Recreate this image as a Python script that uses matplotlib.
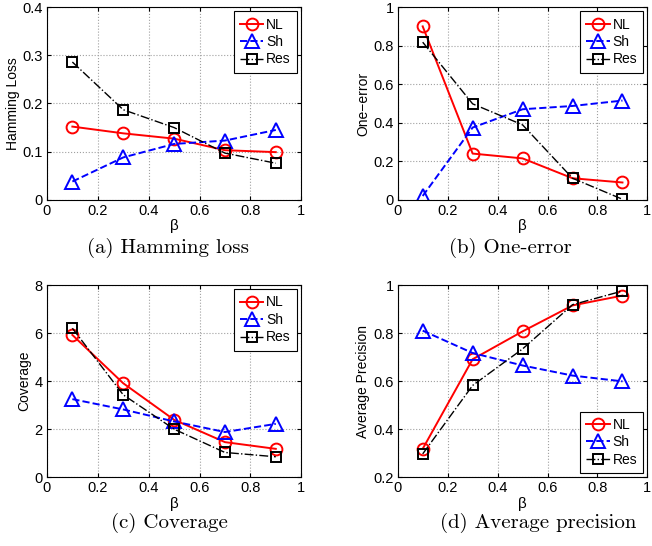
import matplotlib
matplotlib.use("Agg")
import matplotlib.pyplot as plt

plt.rcParams['font.family'] = ['Liberation Sans', 'DejaVu Sans']

beta = [0.1, 0.3, 0.5, 0.7, 0.9]

# (a) Hamming loss
ham_nl = [0.152, 0.138, 0.127, 0.103, 0.099]
ham_sh = [0.038, 0.088, 0.116, 0.123, 0.145]
ham_res = [0.286, 0.187, 0.150, 0.097, 0.076]

# (b) One-error
one_nl = [0.90, 0.24, 0.215, 0.112, 0.09]
one_sh = [0.02, 0.375, 0.47, 0.487, 0.515]
one_res = [0.818, 0.498, 0.389, 0.112, 0.003]

# (c) Coverage
cov_nl = [5.92, 3.91, 2.39, 1.46, 1.18]
cov_sh = [3.25, 2.82, 2.32, 1.88, 2.22]
cov_res = [6.2, 3.43, 2.0, 1.03, 0.85]

# (d) Average precision
ap_nl = [0.318, 0.691, 0.807, 0.915, 0.956]
ap_sh = [0.81, 0.717, 0.665, 0.623, 0.599]
ap_res = [0.297, 0.582, 0.734, 0.918, 0.975]

panels = [
    dict(nl=ham_nl, sh=ham_sh, res=ham_res, ylim=(0, 0.4), yticks=[0, 0.1, 0.2, 0.3, 0.4],
         ylabel='Hamming Loss', caption='(a) Hamming loss', loc='upper right',
         rect=[0.072, 0.634, 0.39, 0.353], cap_xy=(168, 248)),
    dict(nl=one_nl, sh=one_sh, res=one_res, ylim=(0, 1), yticks=[0, 0.2, 0.4, 0.6, 0.8, 1],
         ylabel='One\u2212error', caption='(b) One-error', loc='upper right',
         rect=[0.610, 0.634, 0.383, 0.353], cap_xy=(510, 248)),
    dict(nl=cov_nl, sh=cov_sh, res=cov_res, ylim=(0, 8), yticks=[0, 2, 4, 6, 8],
         ylabel='Coverage', caption='(c) Coverage', loc='upper right',
         rect=[0.072, 0.126, 0.39, 0.352], cap_xy=(169, 523)),
    dict(nl=ap_nl, sh=ap_sh, res=ap_res, ylim=(0.2, 1), yticks=[0.2, 0.4, 0.6, 0.8, 1],
         ylabel='Average Precision', caption='(d) Average precision', loc='lower right',
         rect=[0.610, 0.126, 0.383, 0.352], cap_xy=(538, 523)),
]

W, H = 652, 546
fig = plt.figure(figsize=(W / 100, H / 100), dpi=100)

for p in panels:
    ax = fig.add_axes(p['rect'])
    ax.plot(beta, p['nl'], '-o', color='red', lw=1.4, ms=8.5, mfc='none', mew=1.4, label='NL')
    ax.plot(beta, p['sh'], '--^', color='blue', lw=1.4, ms=9.5, mfc='none', mew=1.4, label='Sh')
    ax.plot(beta, p['res'], '-.s', color='black', lw=1.0, ms=7, mfc='none', mew=1.4, label='Res')
    ax.set_xlim(0, 1)
    ax.set_ylim(*p['ylim'])
    ax.set_xticks([0, 0.2, 0.4, 0.6, 0.8, 1])
    ax.set_xticklabels(['0', '0.2', '0.4', '0.6', '0.8', '1'])
    ax.set_yticks(p['yticks'])
    ax.set_yticklabels(['%g' % v for v in p['yticks']])
    ax.tick_params(direction='in', labelsize=10.5, length=3, top=True, right=True, pad=3)
    ax.grid(True, linestyle=':', color='#a0a0a0', lw=0.8)
    ax.set_xlabel('\u03b2', fontsize=11, labelpad=1)
    ax.set_ylabel(p['ylabel'], fontsize=10, labelpad=2)
    leg = ax.legend(loc=p['loc'], fontsize=10, frameon=True, fancybox=False,
                    edgecolor='black', framealpha=1, borderpad=0.45, labelspacing=0.25,
                    handlelength=1.7, handletextpad=0.2, borderaxespad=0.3)
    leg.get_frame().set_linewidth(0.8)
    for s in ax.spines.values():
        s.set_linewidth(0.8)
    cx, cy = p['cap_xy']
    fig.text(cx / W, 1 - cy / H, p['caption'], family='cmr10', fontsize=15,
             ha='center', va='center')

fig.savefig('out.png', dpi=100)
